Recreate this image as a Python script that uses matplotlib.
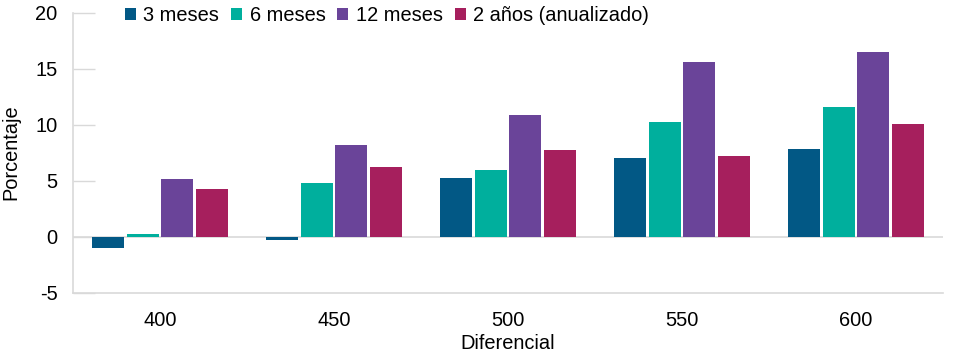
import matplotlib
matplotlib.use("Agg")
import matplotlib.pyplot as plt
import numpy as np

categories = ["400", "450", "500", "550", "600"]
series_names = ["3 meses", "6 meses", "12 meses", "2 años (anualizado)"]
m3 = [-1.0, -0.3, 5.25, 7.05, 7.8]
m6 = [0.25, 4.8, 5.95, 10.2, 11.55]
m12 = [5.15, 8.2, 10.9, 15.6, 16.45]
y2 = [4.25, 6.2, 7.7, 7.2, 10.1]
colors = ["#025885", "#00AF9D", "#6A4499", "#A61F5D"]
yticks = [-5, 0, 5, 10, 15, 20]

plt.rcParams['font.family'] = ['Liberation Sans', 'DejaVu Sans']
fs = 14.4

fig = plt.figure(figsize=(9.6, 3.59), dpi=100)
ax = fig.add_axes([73/960, 1-292.7/359, (943-73)/960, (292.7-12.7)/359])

x = np.arange(len(categories))
offsets = [-0.3, -0.1, 0.1, 0.3]
handles = []
for vals, off, c, name in zip([m3, m6, m12, y2], offsets, colors, series_names):
    h = ax.bar(x + off, vals, width=0.183, color=c, label=name, zorder=3)
    handles.append(h)

grey = "#d9d9d9"
ax.axhline(0, color=grey, lw=1.2, zorder=2)
ax.set_xlim(-0.5, 4.5)
ax.set_ylim(-5, 20)
ax.set_yticks(yticks)
ax.set_yticklabels([str(v) for v in yticks], fontsize=fs)
ax.set_xticks(x)
ax.set_xticklabels(categories, fontsize=fs)
ax.tick_params(axis='y', direction='in', length=16, width=1, color=grey, pad=11)
ax.tick_params(axis='x', length=0, pad=13)
for s in ['top', 'right']:
    ax.spines[s].set_visible(False)
for s in ['left', 'bottom']:
    ax.spines[s].set_color(grey)
    ax.spines[s].set_linewidth(1.2)

fig.text(508/960, 1-343.3/359, "Diferencial", fontsize=fs, ha='center', va='center')
fig.text(11/960, 1-152.5/359, "Porcentaje", fontsize=fs, ha='center', va='center',
         rotation=90)

fig.legend(handles=handles, labels=series_names, loc='center',
           bbox_to_anchor=(387/960, 1-15.5/359), ncol=4, frameon=False,
           fontsize=fs, handlelength=0.55, handleheight=0.55,
           handletextpad=0.37, columnspacing=0.6, borderpad=0, borderaxespad=0)

fig.savefig("out.png", dpi=100)
